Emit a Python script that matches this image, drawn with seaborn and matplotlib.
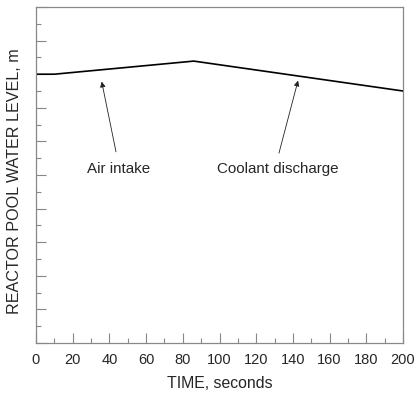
import matplotlib
matplotlib.use("Agg")
import matplotlib.pyplot as plt
import seaborn as sns
import pandas as pd
from matplotlib.ticker import MultipleLocator, NullFormatter

time_s = [0, 10, 86, 200]
level_m = [8.0, 8.0, 8.39, 7.5]
x_ticks = [0, 20, 40, 60, 80, 100, 120, 140, 160, 180, 200]
annotations = ["Air intake", "Coolant discharge"]

sns.set_style("white")
plt.rcParams['font.family'] = ['Liberation Sans', 'DejaVu Sans']

df = pd.DataFrame({"t": time_s, "h": level_m})

fig = plt.figure(figsize=(4.16, 3.94), dpi=100)
ax = fig.add_axes([36/416, 1-343/394, (403-36)/416, (343-7)/394])
sns.lineplot(data=df, x="t", y="h", ax=ax, color="black", linewidth=1.2)

ax.set_xlim(0, 200)
ax.set_ylim(0, 10)
ax.set_xticks(x_ticks)
ax.xaxis.set_minor_locator(MultipleLocator(10))
ax.yaxis.set_major_locator(MultipleLocator(1))
ax.yaxis.set_minor_locator(MultipleLocator(0.5))
ax.yaxis.set_major_formatter(NullFormatter())
ax.tick_params(axis="both", which="major", direction="in", length=7, width=0.8,
               color="#888888", labelsize=10.5, pad=7, left=True, bottom=True)
ax.tick_params(axis="both", which="minor", direction="in", length=3.5, width=0.8,
               color="#888888", left=True, bottom=True)
for s in ax.spines.values():
    s.set_color("#888888")
    s.set_linewidth(0.9)

ax.set_xlabel("TIME, seconds", fontsize=11.4, labelpad=7)
ax.set_ylabel("REACTOR POOL WATER LEVEL, m", fontsize=11.6)
ax.yaxis.set_label_coords(-0.038, 0.482)

arrow_kw = dict(arrowstyle="-|>", color="#222222", lw=0.6,
                mutation_scale=8, shrinkA=0, shrinkB=0)
ax.text(45.2, 5.18, annotations[0], ha="center", va="center", fontsize=10.9)
ax.annotate("", xy=(35.8, 7.78), xytext=(43.6, 5.69), arrowprops=arrow_kw)
ax.text(131.9, 5.18, annotations[1], ha="center", va="center", fontsize=10.9)
ax.annotate("", xy=(142.8, 7.81), xytext=(132.4, 5.65), arrowprops=arrow_kw)

fig.savefig("out.png", dpi=100)
